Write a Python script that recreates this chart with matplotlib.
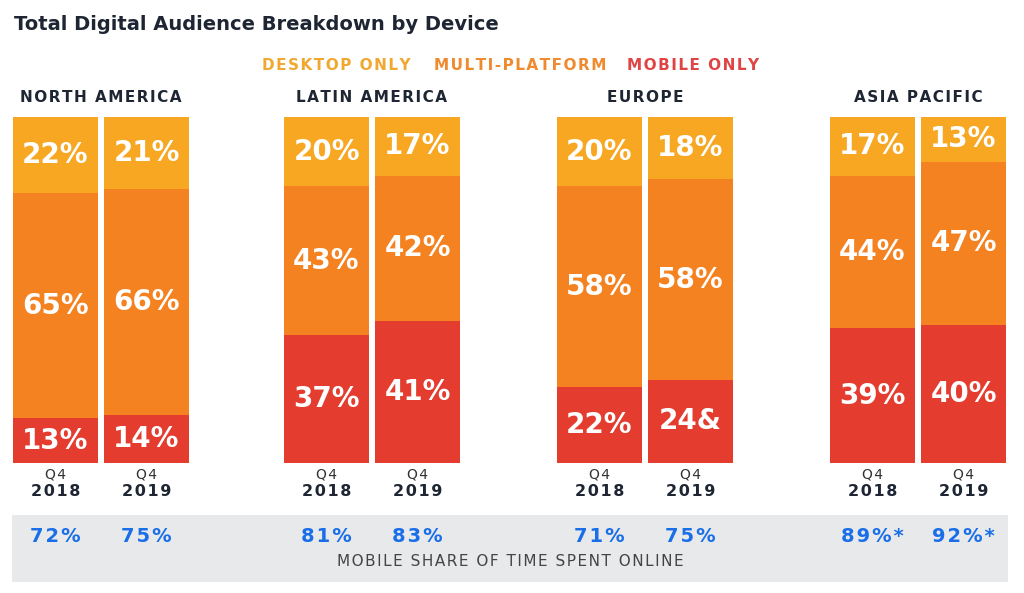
import matplotlib
matplotlib.use("Agg")
import matplotlib.pyplot as plt
from matplotlib.patches import Rectangle

# ---- data ----
regions = ["NORTH AMERICA", "LATIN AMERICA", "EUROPE", "ASIA PACIFIC"]
quarters = ["Q4", "Q4"]
years = ["2018", "2019"]
desktop = [[22, 21], [20, 17], [20, 18], [17, 13]]
multi = [[65, 66], [43, 42], [58, 58], [44, 47]]
mobile = [[13, 14], [37, 41], [22, 24], [39, 40]]
mobile_labels = [["13%", "14%"], ["37%", "41%"], ["22%", "24&"], ["39%", "40%"]]
mobile_time = [["72%", "75%"], ["81%", "83%"], ["71%", "75%"], ["89%*", "92%*"]]
legend_labels = ["DESKTOP ONLY", "MULTI-PLATFORM", "MOBILE ONLY"]

# ---- styles ----
C_DESK = "#F7A722"
C_MULTI = "#F58220"
C_MOB = "#E43D30"
L_DESK = "#F0A830"
L_MULTI = "#EF8A2E"
L_MOB = "#E04545"
DARK = "#1E2533"
BLUE = "#1A6FE8"

W, H = 1024, 593
fig = plt.figure(figsize=(W / 100, H / 100), dpi=100)
fig.patch.set_facecolor("white")

def fx(px):
    return px / W

def fy(py):
    return 1 - py / H

def spaced(s):
    return "\u200a".join(s)

# grey band
band = Rectangle((fx(12), fy(582)), fx(1008) - fx(12), (582 - 515) / H,
                 transform=fig.transFigure, facecolor="#E8E9EB",
                 edgecolor="none", zorder=-5)
fig.patches.append(band)

fig.text(fx(14), fy(24), "Total Digital Audience Breakdown by Device", fontsize=14,
         fontweight="bold", color=DARK, ha="left", va="center")

for lab, col, cx in zip(legend_labels, [L_DESK, L_MULTI, L_MOB], [336, 520, 693]):
    fig.text(fx(cx), fy(66), spaced(lab), fontsize=11, fontweight="bold", color=col,
             ha="center", va="center")

fig.text(fx(510), fy(562), spaced("MOBILE SHARE OF TIME SPENT ONLINE"), fontsize=11,
         color="#444444", ha="center", va="center")

lefts = [13, 284, 557, 830]
top_px, bot_px = 117, 463
ax_w = 176
bw = 85 / 91

for r, left in enumerate(lefts):
    ax = fig.add_axes([fx(left), fy(bot_px), ax_w / W, (bot_px - top_px) / H])
    ax.set_xlim(-bw / 2, 1 + bw / 2)
    ax.set_ylim(0, 100)
    ax.axis("off")
    for i in range(2):
        tot = desktop[r][i] + multi[r][i] + mobile[r][i]
        m = mobile[r][i] * 100 / tot
        mu = multi[r][i] * 100 / tot
        d = desktop[r][i] * 100 / tot
        ax.bar(i, m, width=bw, bottom=0, color=C_MOB, linewidth=0)
        ax.bar(i, mu, width=bw, bottom=m, color=C_MULTI, linewidth=0)
        ax.bar(i, d, width=bw, bottom=m + mu, color=C_DESK, linewidth=0)
        tk = dict(ha="center", va="center", color="white", fontsize=20, fontweight="bold")
        ax.text(i, m / 2, mobile_labels[r][i], **tk)
        ax.text(i, m + mu / 2, f"{multi[r][i]}%", **tk)
        ax.text(i, m + mu + d / 2, f"{desktop[r][i]}%", **tk)
        tr = ax.get_xaxis_transform()
        ax.text(i, -11 / 346, spaced(quarters[i]), transform=tr, ha="center", va="center",
                fontsize=10, color="#333333", clip_on=False)
        ax.text(i, -29 / 346, spaced(years[i]), transform=tr, ha="center", va="center",
                fontsize=11.5, fontweight="bold", color=DARK, clip_on=False)
        ax.text(i, -74 / 346, spaced(mobile_time[r][i]), transform=tr, ha="center",
                va="center", fontsize=14, fontweight="bold", color=BLUE, clip_on=False,
                zorder=10)
    ax.text(0.5, 1 + 20 / 346, spaced(regions[r]), transform=ax.get_xaxis_transform(),
            ha="center", va="center", fontsize=11, fontweight="bold", color=DARK,
            clip_on=False)

fig.savefig("out.png", dpi=100)
